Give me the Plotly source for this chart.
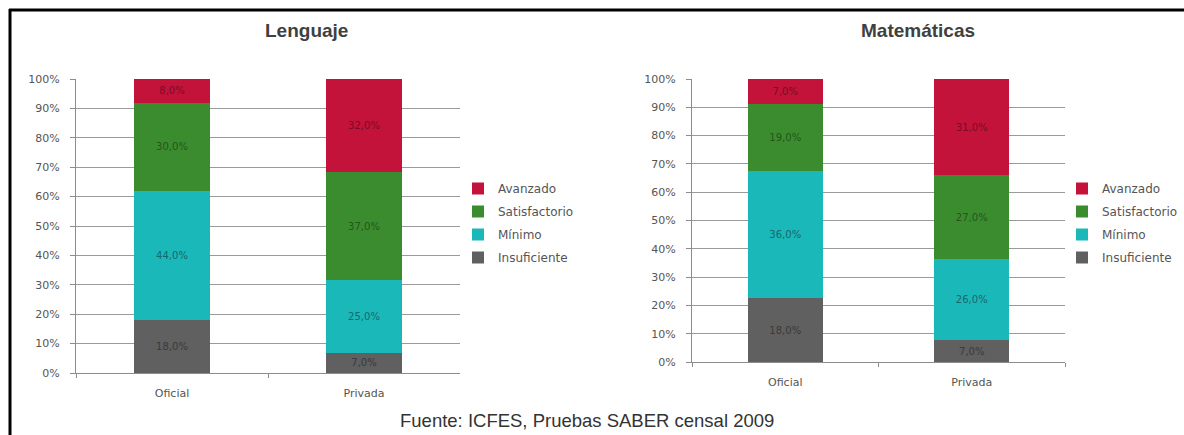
import plotly.graph_objects as go

W, H = 1184, 435

categories = ["Oficial", "Privada"]
levels = ["Insuficiente", "Mínimo", "Satisfactorio", "Avanzado"]
colors = ["#606060", "#1BB8BA", "#3B8C2F", "#C3133A"]
text_colors = ["#3a3a3a", "#15686c", "#23561c", "#7a0c26"]

lenguaje_insuficiente = [18.0, 7.0]
lenguaje_minimo = [44.0, 25.0]
lenguaje_satisfactorio = [30.0, 37.0]
lenguaje_avanzado = [8.0, 32.0]

matematicas_insuficiente = [18.0, 7.0]
matematicas_minimo = [36.0, 26.0]
matematicas_satisfactorio = [19.0, 27.0]
matematicas_avanzado = [7.0, 31.0]

y_ticks = [0, 10, 20, 30, 40, 50, 60, 70, 80, 90, 100]
y_tick_labels = [f"{t}%" for t in y_ticks]

lenguaje = [lenguaje_insuficiente, lenguaje_minimo, lenguaje_satisfactorio, lenguaje_avanzado]
matematicas = [matematicas_insuficiente, matematicas_minimo, matematicas_satisfactorio, matematicas_avanzado]


def px(x):
    return x / W


def py(y):
    return 1 - y / H


def fmt(v):
    return f"{v:.1f}%".replace(".", ",")


fig = go.Figure()

for idx, (series, xa, ya, leg) in enumerate([(lenguaje, "x", "y", "legend"), (matematicas, "x2", "y2", "legend2")]):
    for i, name in enumerate(levels):
        vals = series[i]
        fig.add_trace(go.Bar(
            x=categories, y=vals, name=name,
            xaxis=xa, yaxis=ya,
            marker=dict(color=colors[i], line=dict(width=0)),
            text=[fmt(v) for v in vals],
            textposition="inside", insidetextanchor="middle",
            textfont=dict(family="DejaVu Sans", size=10, color=text_colors[i]),
            width=0.4,
            legend=leg, legendgroup=f"{leg}-{name}", legendrank=len(levels) - i,
            hoverinfo="skip",
        ))

axis_common = dict(
    showgrid=False, showline=True, linecolor="#8c8c8c", linewidth=1,
    ticks="outside", ticklen=4, tickcolor="#8c8c8c",
    tickfont=dict(family="DejaVu Sans", size=11, color="#555555"),
    ticklabelstandoff=10,
    fixedrange=True, automargin=False,
)
yaxis_common = dict(
    range=[0, 100], tickvals=y_ticks, ticktext=y_tick_labels,
    showgrid=True, gridcolor="#9a9a9a", gridwidth=1,
    showline=True, linecolor="#8c8c8c", linewidth=1,
    ticks="outside", ticklen=5, tickcolor="#8c8c8c",
    tickfont=dict(family="DejaVu Sans", size=11, color="#555555"),
    ticklabelstandoff=8,
    zeroline=False, fixedrange=True, automargin=False,
)

legend_common = dict(
    xanchor="left", yanchor="top", traceorder="grouped", tracegroupgap=4,
    font=dict(family="DejaVu Sans", size=12, color="#555555"),
    itemwidth=30, bgcolor="rgba(0,0,0,0)",
)

fig.update_layout(
    width=W, height=H, autosize=False,
    margin=dict(l=0, r=0, t=0, b=0, pad=0, autoexpand=False),
    paper_bgcolor="white", plot_bgcolor="white",
    barmode="stack", barnorm="percent",
    xaxis=dict(domain=[px(76), px(460)], anchor="y", tickson="boundaries", **axis_common),
    yaxis=dict(domain=[py(373), py(79)], anchor="x", **yaxis_common),
    xaxis2=dict(domain=[px(692), px(1065)], anchor="y2", tickson="boundaries", **axis_common),
    yaxis2=dict(domain=[py(362), py(79)], anchor="x2", **yaxis_common),
    legend=dict(x=px(458), y=py(174), **legend_common),
    legend2=dict(x=px(1062), y=py(174), **legend_common),
    showlegend=True,
    annotations=[
        dict(text="<b>Lenguaje</b>", x=px(307), y=py(30), xref="paper", yref="paper",
             showarrow=False, xanchor="center", yanchor="middle",
             font=dict(family="Liberation Sans", size=19, color="#404040")),
        dict(text="<b>Matemáticas</b>", x=px(918), y=py(31), xref="paper", yref="paper",
             showarrow=False, xanchor="center", yanchor="middle",
             font=dict(family="Liberation Sans", size=19, color="#404040")),
        dict(text="Fuente: ICFES, Pruebas SABER censal 2009", x=px(587), y=py(420),
             xref="paper", yref="paper", showarrow=False, xanchor="center", yanchor="middle",
             font=dict(family="Liberation Sans", size=18.5, color="#333333")),
    ],
    shapes=[
        dict(type="line", xref="paper", yref="paper", x0=px(9), x1=1, y0=py(10), y1=py(10),
             line=dict(color="black", width=3)),
        dict(type="line", xref="paper", yref="paper", x0=px(10), x1=px(10), y0=py(9), y1=0,
             line=dict(color="black", width=3)),
    ],
)

fig.write_html(
    "out.html",
    config={"displayModeBar": False},
    post_script="document.body.style.margin='0';document.body.style.padding='0';document.documentElement.style.overflow='hidden';",
)
